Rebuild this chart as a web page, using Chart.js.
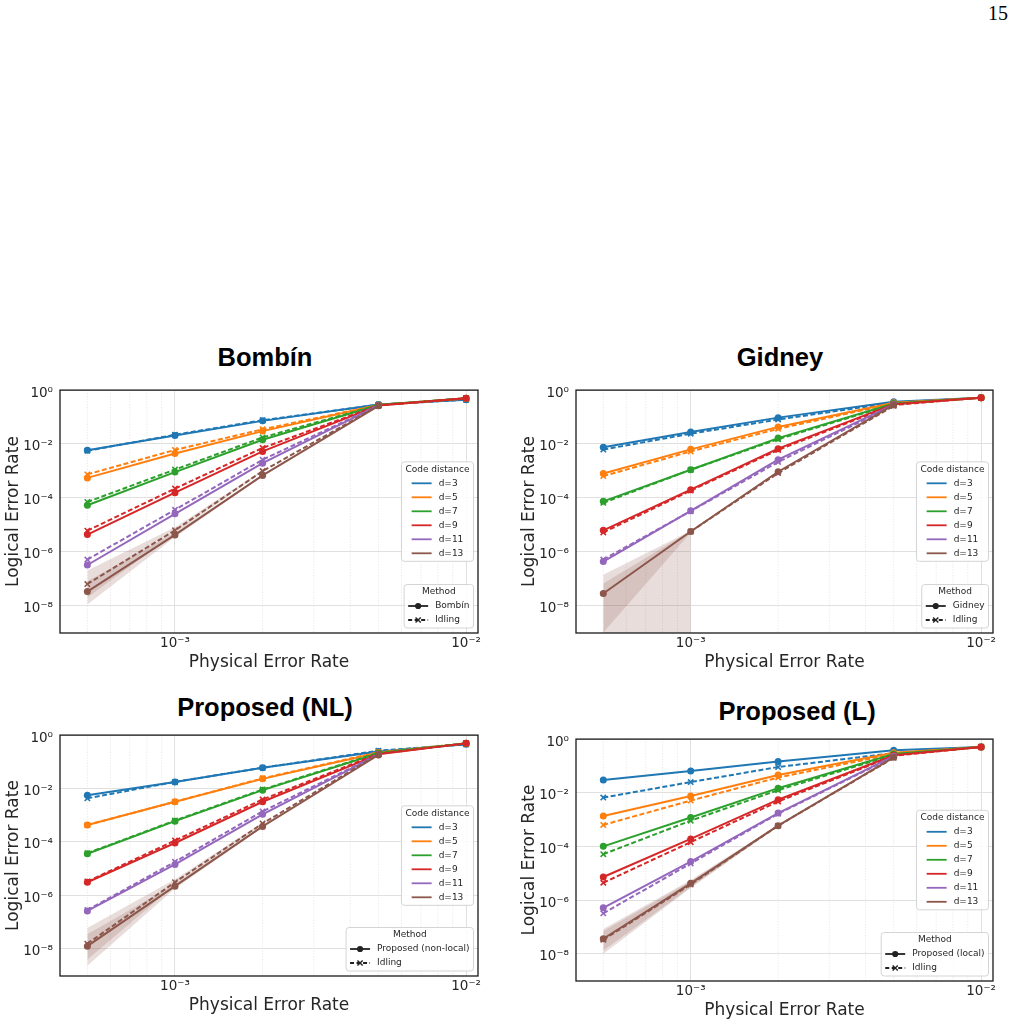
<!DOCTYPE html>
<html>
<head>
<meta charset="utf-8">
<script src="https://cdn.jsdelivr.net/npm/chart.js@4.4.1/dist/chart.umd.min.js"></script>
<style>
html,body{margin:0;padding:0;background:#fff;}
body{width:1016px;height:1024px;position:relative;overflow:hidden;}
canvas{position:absolute;}
.ptitle{position:absolute;font-family:"Liberation Sans",Arial,sans-serif;font-weight:bold;font-size:25.5px;line-height:1;color:#000;transform:translate(-50%,-50%);white-space:nowrap;}
#page{position:absolute;right:8px;top:3px;font-family:"Liberation Serif","DejaVu Serif",serif;font-size:20px;line-height:1;color:#000;}
</style>
</head>
<body>
<div id="page">15</div>
<div class="ptitle" id="t1" style="left:265px;top:358px"></div>
<div class="ptitle" id="t2" style="left:780px;top:358px"></div>
<div class="ptitle" id="t3" style="left:265px;top:707.5px"></div>
<div class="ptitle" id="t4" style="left:797px;top:711.5px"></div>
<canvas id="c1" width="488" height="298" style="left:0px;top:375px"></canvas>
<canvas id="c2" width="487" height="298" style="left:516px;top:375px"></canvas>
<canvas id="c3" width="488" height="296" style="left:0px;top:720px"></canvas>
<canvas id="c4" width="487" height="297" style="left:516px;top:724px"></canvas>
<script>
// ---------------- data ----------------
const xValues = [5e-4, 1e-3, 2e-3, 5e-3, 1e-2];
const distanceLabels = ['d=3', 'd=5', 'd=7', 'd=9', 'd=11', 'd=13'];
const distanceColors = ['#1f77b4', '#ff7f0e', '#2ca02c', '#d62728', '#9467bd', '#8c564b'];

const yTickValues = [1, 1e-2, 1e-4, 1e-6, 1e-8];
const yTickLabels = ['10⁰', '10⁻²', '10⁻⁴', '10⁻⁶', '10⁻⁸'];
const xTickValues = [1e-3, 1e-2];
const xTickLabels = ['10⁻³', '10⁻²'];
const xMinorTickValues = [4e-4, 5e-4, 6e-4, 7e-4, 8e-4, 9e-4, 2e-3, 3e-3, 4e-3, 5e-3, 6e-3, 7e-3, 8e-3, 9e-3];

const panelTitles = ['Bombín', 'Gidney', 'Proposed (NL)', 'Proposed (L)'];
const methodLabels = ['Bombín', 'Gidney', 'Proposed (non-local)', 'Proposed (local)'];
const idlingLabel = 'Idling';
const codeLegendTitle = 'Code distance';
const methodLegendTitle = 'Method';
const xAxisTitle = 'Physical Error Rate';
const yAxisTitle = 'Logical Error Rate';

// rows: d=3, d=5, d=7, d=9, d=11, d=13 ; columns follow xValues
const bombinMain = [
  [5.8e-3, 2.07e-2, 7.2e-2, 0.29, 0.44],
  [5.5e-4, 4.4e-3, 3.0e-2, 0.28, 0.49],
  [5.3e-5, 9.0e-4, 1.43e-2, 0.28, 0.50],
  [4.3e-6, 1.55e-4, 5.3e-3, 0.27, 0.50],
  [3.2e-7, 2.55e-5, 1.94e-3, 0.27, null],
  [3.3e-8, 4.2e-6, 6.8e-4, 0.26, null]
];
const bombinIdling = [
  [5.6e-3, 2.2e-2, 7.6e-2, 0.29, 0.44],
  [7.4e-4, 6.0e-3, 3.5e-2, 0.28, 0.49],
  [7.0e-5, 1.12e-3, 1.75e-2, 0.28, 0.50],
  [6.0e-6, 2.2e-4, 7.1e-3, 0.27, 0.50],
  [5.1e-7, 3.6e-5, 2.6e-3, 0.27, null],
  [6.3e-8, 6.2e-6, 9.8e-4, 0.26, null]
];
const gidneyMain = [
  [7.5e-3, 2.8e-2, 9.5e-2, 0.37, 0.52],
  [8.0e-4, 6.3e-3, 4.3e-2, 0.34, 0.52],
  [7.4e-5, 1.1e-3, 1.65e-2, 0.32, 0.52],
  [6.2e-6, 2.0e-4, 6.7e-3, 0.30, 0.52],
  [4.3e-7, 3.3e-5, 2.6e-3, 0.29, null],
  [2.8e-8, 5.6e-6, 9.3e-4, 0.28, null]
];
const gidneyIdling = [
  [6.2e-3, 2.4e-2, 8.1e-2, 0.34, 0.52],
  [6.4e-4, 5.3e-3, 3.65e-2, 0.32, 0.52],
  [6.5e-5, 1.1e-3, 1.5e-2, 0.30, 0.52],
  [5.2e-6, 1.85e-4, 6.0e-3, 0.28, 0.52],
  [5.1e-7, 3.2e-5, 2.15e-3, 0.27, null],
  [null, 5.6e-6, 8.3e-4, 0.26, null]
];
const nlMain = [
  [5.6e-3, 1.77e-2, 6.0e-2, 0.245, 0.45],
  [4.3e-4, 3.2e-3, 2.3e-2, 0.22, 0.49],
  [3.6e-5, 6.0e-4, 8.7e-3, 0.21, 0.49],
  [3.1e-6, 9.1e-5, 3.2e-3, 0.19, 0.49],
  [2.6e-7, 1.44e-5, 1.08e-3, 0.185, null],
  [1.25e-8, 2.2e-6, 3.8e-4, 0.18, null]
];
const nlIdling = [
  [4.3e-3, 1.77e-2, 6.0e-2, 0.26, 0.45],
  [4.3e-4, 3.2e-3, 2.4e-2, 0.23, 0.49],
  [3.8e-5, 6.3e-4, 9.2e-3, 0.22, 0.49],
  [3.3e-6, 1.13e-4, 3.9e-3, 0.20, 0.49],
  [2.8e-7, 1.8e-5, 1.39e-3, 0.19, null],
  [1.55e-8, 3.1e-6, 4.9e-4, 0.19, null]
];
const localMain = [
  [3.0e-2, 6.5e-2, 0.147, 0.38, 0.51],
  [1.35e-3, 7.5e-3, 4.6e-2, 0.31, 0.51],
  [1.0e-4, 1.2e-3, 1.48e-2, 0.28, 0.51],
  [7.2e-6, 1.9e-4, 5.5e-3, 0.25, 0.51],
  [5.1e-7, 2.7e-5, 1.74e-3, 0.23, null],
  [3.6e-8, 4.2e-6, 5.9e-4, 0.21, null]
];
const localIdling = [
  [6.6e-3, 2.5e-2, 9.1e-2, 0.30, 0.51],
  [6.3e-4, 5.1e-3, 3.7e-2, 0.28, 0.51],
  [5.1e-5, 9.1e-4, 1.25e-2, 0.26, 0.51],
  [4.4e-6, 1.44e-4, 4.7e-3, 0.24, 0.51],
  [3.2e-7, 2.3e-5, 1.65e-3, 0.22, null],
  [3.3e-8, 3.8e-6, 5.9e-4, 0.20, null]
];

// d=13 confidence bands: [upper, lower] for main method and idling
const bombinBandMain = [[8.0e-8, 5.0e-6, 7.4e-4, null, null], [1.1e-8, 3.5e-6, 6.3e-4, null, null]];
const bombinBandIdling = [[2.0e-7, 8.0e-6, 1.05e-3, null, null], [2.0e-8, 4.7e-6, 9.2e-4, null, null]];
const gidneyBandMain = [[6.6e-8, 6.0e-6, 9.8e-4, null, null], [1.0e-9, 5.2e-6, 8.8e-4, null, null]];
const gidneyBandIdling = [[1.4e-7, 6.0e-6, null, null, null], [1e-12, 1e-12, null, null, null]];
const nlBandMain = [[3.5e-8, 2.6e-6, 4.1e-4, null, null], [2.3e-9, 1.8e-6, 3.5e-4, null, null]];
const nlBandIdling = [[6.0e-8, 4.0e-6, 5.3e-4, null, null], [4.0e-9, 2.4e-6, 4.5e-4, null, null]];
const localBandMain = [[8.3e-8, 5.6e-6, 6.3e-4, null, null], [1.3e-8, 3.0e-6, 5.5e-4, null, null]];
const localBandIdling = [[7.0e-8, 5.0e-6, 6.3e-4, null, null], [1.0e-8, 2.8e-6, 5.5e-4, null, null]];

// ---------------- helpers ----------------
const FONT = "'DejaVu Sans', sans-serif";
const TXT = '#262626';
const bandColor = 'rgba(140,86,75,0.2)';

function sameVal(a, b) { return Math.abs(Math.log10(a) - Math.log10(b)) < 1e-6; }
function labelFor(v, vals, labs) {
  for (let i = 0; i < vals.length; i++) if (sameVal(v, vals[i])) return labs[i];
  return '';
}
function pts(row) { return xValues.map((x, i) => ({x: x, y: row[i]})); }

function buildDatasets(mainRows, idleRows, bandMain, bandIdle) {
  const ds = [];
  for (let k = 0; k < distanceLabels.length; k++) {
    const c = distanceColors[k];
    ds.push({label: distanceLabels[k], data: pts(mainRows[k]), borderColor: c, backgroundColor: c,
      borderWidth: 2, pointRadius: 3.5, pointStyle: 'circle', pointBorderWidth: 0,
      pointBackgroundColor: c, fill: false, tension: 0, order: 40 - 2 * k});
    ds.push({label: distanceLabels[k] + ' ' + idlingLabel, data: pts(idleRows[k]), borderColor: c, backgroundColor: c,
      borderWidth: 2, borderDash: [5, 2.5], pointRadius: 3.8, pointStyle: 'crossRot', pointBorderWidth: 1.6,
      pointBorderColor: c, pointBackgroundColor: c, fill: false, tension: 0, order: 39 - 2 * k});
  }
  [bandMain, bandIdle].forEach(b => {
    ds.push({label: 'band', data: pts(b[0]), fill: '+1', backgroundColor: bandColor,
      borderColor: 'rgba(0,0,0,0)', borderWidth: 0, pointRadius: 0, order: 100});
    ds.push({label: 'band', data: pts(b[1]), fill: false, backgroundColor: 'rgba(0,0,0,0)',
      borderColor: 'rgba(0,0,0,0)', borderWidth: 0, pointRadius: 0, order: 100});
  });
  return ds;
}

function roundRect(ctx, x, y, w, h, r) {
  ctx.beginPath();
  ctx.moveTo(x + r, y);
  ctx.lineTo(x + w - r, y); ctx.arcTo(x + w, y, x + w, y + r, r);
  ctx.lineTo(x + w, y + h - r); ctx.arcTo(x + w, y + h, x + w - r, y + h, r);
  ctx.lineTo(x + r, y + h); ctx.arcTo(x, y + h, x, y + h - r, r);
  ctx.lineTo(x, y + r); ctx.arcTo(x, y, x + r, y, r);
  ctx.closePath();
}

function drawLegend(ctx, area, title, entries, anchor) {
  ctx.save();
  ctx.font = "9px 'DejaVu Sans'";
  const handle = 20, gap = 7, pad = 4, rowH = 14, titleOff = 7.5, firstOff = 21.5, bottomPad = 8;
  const titleW = ctx.measureText(title).width;
  let labW = 0;
  entries.forEach(e => { labW = Math.max(labW, ctx.measureText(e.label).width); });
  const entryW = handle + gap + labW;
  const w = Math.max(titleW, entryW) + 2 * pad;
  const h = firstOff + (entries.length - 1) * rowH + bottomPad;
  const x = area.right - 4.5 - w;
  const y = anchor === 'center' ? (area.top + area.bottom) / 2 - h / 2 : area.bottom - 5 - h;
  roundRect(ctx, x, y, w, h, 3);
  ctx.fillStyle = 'rgba(255,255,255,0.85)';
  ctx.fill();
  ctx.strokeStyle = '#d4d4d4';
  ctx.lineWidth = 1;
  ctx.stroke();
  ctx.fillStyle = TXT;
  ctx.textBaseline = 'middle';
  ctx.textAlign = 'center';
  ctx.fillText(title, x + w / 2, y + titleOff);
  const ex = x + (w - entryW) / 2;
  entries.forEach((e, i) => {
    const cy = y + firstOff + i * rowH;
    ctx.save();
    ctx.strokeStyle = e.color;
    ctx.fillStyle = e.color;
    ctx.lineWidth = 1.8;
    ctx.setLineDash(e.dash ? [4, 2.5] : []);
    ctx.beginPath(); ctx.moveTo(ex, cy); ctx.lineTo(ex + handle, cy); ctx.stroke();
    ctx.setLineDash([]);
    const mx = ex + handle / 2;
    if (e.marker === 'circle') {
      ctx.beginPath(); ctx.arc(mx, cy, 3.1, 0, Math.PI * 2); ctx.fill();
    } else if (e.marker === 'x') {
      ctx.lineWidth = 1.4;
      ctx.beginPath();
      ctx.moveTo(mx - 2.6, cy - 2.6); ctx.lineTo(mx + 2.6, cy + 2.6);
      ctx.moveTo(mx - 2.6, cy + 2.6); ctx.lineTo(mx + 2.6, cy - 2.6);
      ctx.stroke();
    }
    ctx.restore();
    ctx.fillStyle = TXT;
    ctx.textAlign = 'left';
    ctx.fillText(e.label, ex + handle + gap, cy);
  });
  ctx.restore();
}

const decorPlugin = {
  id: 'decor',
  beforeDatasetsDraw(chart) {
    const {ctx, chartArea: a} = chart;
    const xs = chart.scales.x;
    ctx.save();
    ctx.strokeStyle = '#e2e2e2';
    ctx.lineWidth = 0.8;
    ctx.setLineDash([1.2, 1.6]);
    xMinorTickValues.forEach(v => {
      const px = xs.getPixelForValue(v);
      if (px <= a.left + 1 || px >= a.right - 1) return;
      ctx.beginPath(); ctx.moveTo(px, a.top); ctx.lineTo(px, a.bottom); ctx.stroke();
    });
    ctx.restore();
  },
  afterDatasetsDraw(chart) {
    const {ctx, chartArea: a} = chart;
    ctx.save();
    ctx.strokeStyle = '#1a1a1a';
    ctx.lineWidth = 1.3;
    ctx.strokeRect(a.left, a.top, a.right - a.left, a.bottom - a.top);
    ctx.restore();
  },
  afterDraw(chart, args, opts) {
    const {ctx, chartArea: a} = chart;
    const codeEntries = distanceLabels.map((l, i) => ({label: l, color: distanceColors[i]}));
    drawLegend(ctx, a, codeLegendTitle, codeEntries, 'center');
    drawLegend(ctx, a, methodLegendTitle, [
      {label: opts.method, color: '#222', marker: 'circle'},
      {label: idlingLabel, color: '#222', marker: 'x', dash: true}
    ], 'bottom');
  }
};

function makeChart(id, mainRows, idleRows, bandMain, bandIdle, method) {
  return new Chart(document.getElementById(id), {
    type: 'line',
    data: {datasets: buildDatasets(mainRows, idleRows, bandMain, bandIdle)},
    plugins: [decorPlugin],
    options: {
      responsive: false,
      animation: false,
      events: [],
      layout: {padding: {top: 12, right: 10, bottom: 0, left: 0}},
      plugins: {
        legend: {display: false},
        tooltip: {enabled: false},
        decor: {method: method}
      },
      scales: {
        x: {
          type: 'logarithmic',
          bounds: 'data',
          min: Math.pow(10, -3.395),
          max: Math.pow(10, -1.959),
          afterBuildTicks: s => { s.ticks = xMinorTickValues.concat(xTickValues).sort((a, b) => a - b).map(v => ({value: v})); },
          afterFit: s => { s.height = 40; },
          ticks: {
            autoSkip: false, maxRotation: 0, minRotation: 0, padding: 2,
            font: {family: FONT, size: 13.5}, color: TXT,
            callback: v => labelFor(v, xTickValues, xTickLabels)
          },
          grid: {
            drawTicks: false, lineWidth: 1,
            color: c => (c.tick && labelFor(c.tick.value, xTickValues, xTickLabels) !== '') ? '#e0e0e0' : 'rgba(0,0,0,0)'
          },
          border: {display: false},
          title: {display: true, text: xAxisTitle, font: {family: FONT, size: 17}, color: TXT, padding: {top: 0, bottom: 0}}
        },
        y: {
          type: 'logarithmic',
          bounds: 'data',
          min: Math.pow(10, -9.02),
          max: 1,
          afterBuildTicks: s => { s.ticks = yTickValues.slice().sort((a, b) => a - b).map(v => ({value: v})); },
          afterFit: s => { s.width = 60; },
          ticks: {
            autoSkip: false, padding: 7, labelOffset: 3,
            font: {family: FONT, size: 13.5}, color: TXT,
            callback: v => labelFor(v, yTickValues, yTickLabels)
          },
          grid: {drawTicks: false, lineWidth: 1, color: '#e0e0e0'},
          border: {display: false},
          title: {display: true, text: yAxisTitle, font: {family: FONT, size: 17}, color: TXT, padding: {top: 3, bottom: 0}}
        }
      }
    }
  });
}

['t1', 't2', 't3', 't4'].forEach((id, i) => { document.getElementById(id).textContent = panelTitles[i]; });
makeChart('c1', bombinMain, bombinIdling, bombinBandMain, bombinBandIdling, methodLabels[0]);
makeChart('c2', gidneyMain, gidneyIdling, gidneyBandMain, gidneyBandIdling, methodLabels[1]);
makeChart('c3', nlMain, nlIdling, nlBandMain, nlBandIdling, methodLabels[2]);
makeChart('c4', localMain, localIdling, localBandMain, localBandIdling, methodLabels[3]);
</script>
</body>
</html>
